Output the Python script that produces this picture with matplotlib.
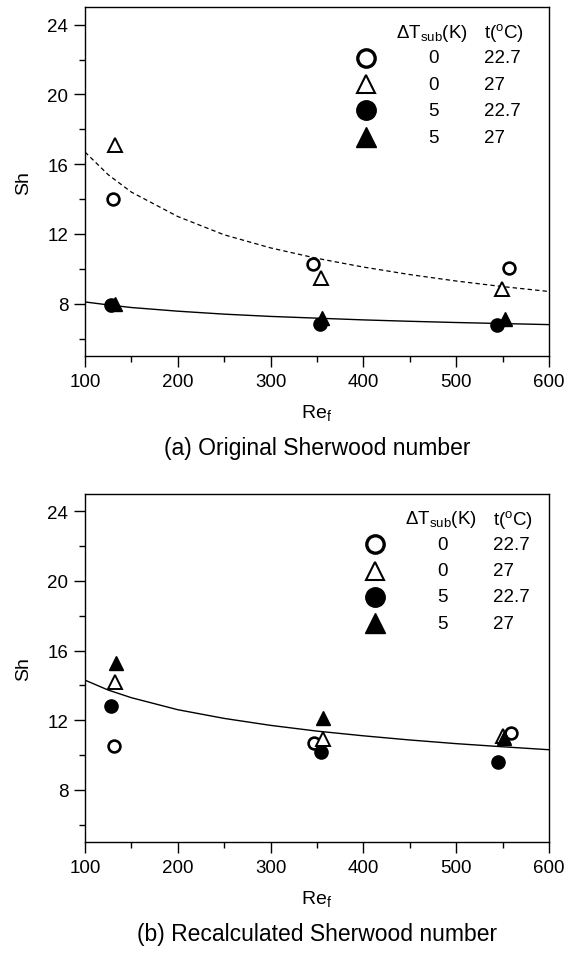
import matplotlib
matplotlib.use("Agg")
import matplotlib.pyplot as plt

plt.rcParams['font.family'] = ['Liberation Sans', 'DejaVu Sans']
plt.rcParams['mathtext.fontset'] = 'custom'
plt.rcParams['mathtext.rm'] = 'Liberation Sans'
plt.rcParams['mathtext.it'] = 'Liberation Sans'

# (a) original Sherwood number
a_re_o0 = [130, 346, 557]
a_sh_o0 = [14.0, 10.3, 10.05]
a_re_t0 = [132, 354, 549]
a_sh_t0 = [17.1, 9.5, 8.85]
a_re_o5 = [128, 353, 544]
a_sh_o5 = [7.95, 6.82, 6.78]
a_re_t5 = [132, 355, 553]
a_sh_t5 = [8.0, 7.2, 7.12]

# (b) recalculated Sherwood number
b_re_o0 = [131, 347, 559]
b_sh_o0 = [10.5, 10.7, 11.25]
b_re_t0 = [132, 356, 550]
b_sh_t0 = [14.2, 10.9, 11.1]
b_re_o5 = [128, 354, 545]
b_sh_o5 = [12.8, 10.15, 9.6]
b_re_t5 = [133, 356, 552]
b_sh_t5 = [15.3, 12.1, 11.0]

# correlation curves
re_curve = [100, 125, 150, 200, 250, 300, 350, 400, 450, 500, 550, 600]
a_fit_dash = [16.7, 15.4, 14.4, 13.0, 11.95, 11.2, 10.6, 10.1, 9.67, 9.3, 8.98, 8.7]
a_fit_solid = [8.1, 7.93, 7.78, 7.57, 7.40, 7.27, 7.17, 7.07, 6.99, 6.92, 6.86, 6.8]
b_fit_solid = [14.3, 13.73, 13.29, 12.6, 12.1, 11.7, 11.37, 11.1, 10.86, 10.65, 10.47, 10.3]

dT_labels = ['0', '0', '5', '5']
t_labels = ['22.7', '27', '22.7', '27']
captions = ['(a) Original Sherwood number', '(b) Recalculated Sherwood number']

styles = [
    dict(marker='o', mfc='white', mec='black', mew=1.9, ms=8.5),
    dict(marker='^', mfc='white', mec='black', mew=1.4, ms=9.5),
    dict(marker='o', mfc='black', mec='black', mew=1.0, ms=9.5),
    dict(marker='^', mfc='black', mec='black', mew=1.0, ms=10),
]
leg_styles = [
    dict(marker='o', mfc='white', mec='black', mew=2.4, ms=12.5),
    dict(marker='^', mfc='white', mec='black', mew=1.5, ms=13),
    dict(marker='o', mfc='black', mec='black', mew=1.0, ms=14),
    dict(marker='^', mfc='black', mec='black', mew=1.0, ms=14),
]

fig = plt.figure(figsize=(5.68, 9.54), dpi=100)
ax1 = fig.add_axes([0.1496, 0.6258, 0.8169, 0.3655])
ax2 = fig.add_axes([0.1496, 0.1164, 0.8169, 0.3648])

panels = [
    (ax1, [(a_re_o0, a_sh_o0), (a_re_t0, a_sh_t0), (a_re_o5, a_sh_o5), (a_re_t5, a_sh_t5)], 0.0),
    (ax2, [(b_re_o0, b_sh_o0), (b_re_t0, b_sh_t0), (b_re_o5, b_sh_o5), (b_re_t5, b_sh_t5)], 0.019),
]

ax1.plot(re_curve, a_fit_dash, color='black', lw=0.9, ls=(0, (3.5, 2.5)))
ax1.plot(re_curve, a_fit_solid, color='black', lw=1.0)
ax2.plot(re_curve, b_fit_solid, color='black', lw=1.0)

for k, (ax, series, dx) in enumerate(panels):
    for (xs, ys), st in zip(series, styles):
        ax.plot(xs, ys, ls='none', **st)

    ax.set_xlim(100, 600)
    ax.set_ylim(5, 25)
    ax.set_xticks(range(100, 601, 100))
    ax.set_xticks(range(150, 600, 100), minor=True)
    ax.set_yticks([8, 12, 16, 20, 24])
    ax.set_yticks([6, 10, 14, 18, 22], minor=True)
    ax.tick_params(which='major', direction='out', length=8, width=1.0, labelsize=13.5, pad=4)
    ax.tick_params(which='minor', direction='out', length=4.5, width=1.0)
    for sp in ax.spines.values():
        sp.set_linewidth(1.0)
    ax.set_xlabel('Re$_{\\rm f}$', fontsize=14, labelpad=9)
    ax.set_ylabel('Sh', fontsize=14, labelpad=11)
    ax.text(0.5, -0.262, captions[k], transform=ax.transAxes, ha='center', va='center', fontsize=16.5)

    # table-style legend
    ax.text(0.748 + dx, 0.928, '$\\Delta$T$_{\\rm sub}$(K)', transform=ax.transAxes,
            ha='center', va='center', fontsize=13.5)
    ax.text(0.860 + dx, 0.928, 't($^{\\rm o}$C)', transform=ax.transAxes,
            ha='left', va='center', fontsize=13.5)
    rows_y = [0.855, 0.779, 0.705, 0.628]
    for yy, st, d, t in zip(rows_y, leg_styles, dT_labels, t_labels):
        ax.plot([0.606 + dx], [yy], transform=ax.transAxes, ls='none', clip_on=False, **st)
        ax.text(0.752 + dx, yy, d, transform=ax.transAxes, ha='center', va='center', fontsize=13.5)
        ax.text(0.860 + dx, yy, t, transform=ax.transAxes, ha='left', va='center', fontsize=13.5)

fig.savefig('out.png', dpi=100)
